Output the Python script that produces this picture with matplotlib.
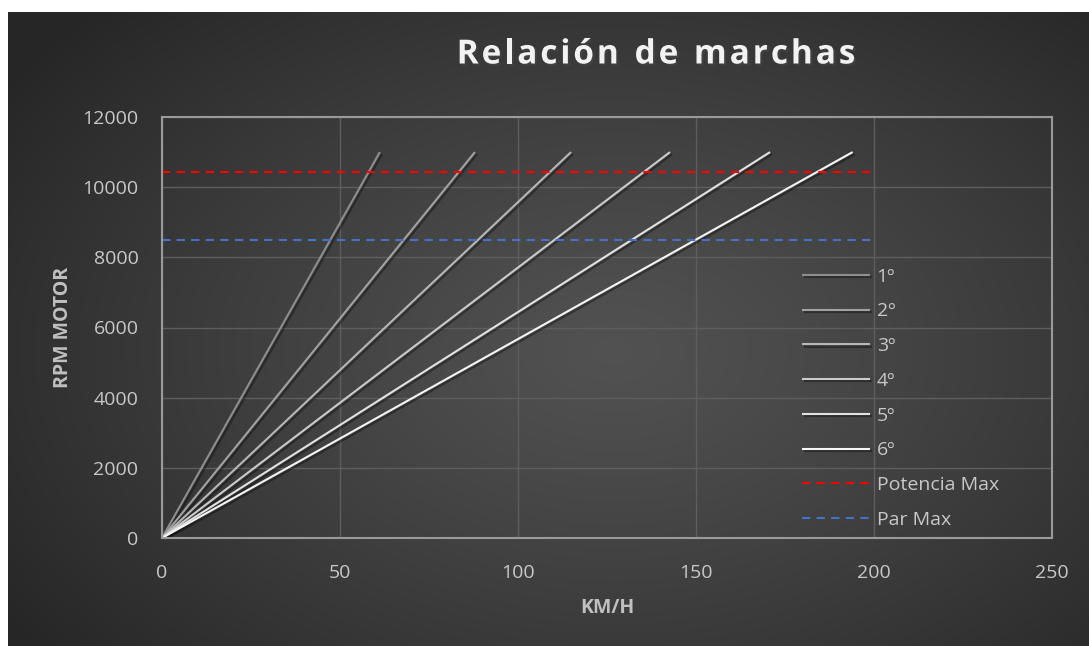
import numpy as np
import matplotlib
matplotlib.use("Agg")
import matplotlib.pyplot as plt
import matplotlib.patheffects as pe

plt.rcParams["font.family"] = ["Open Sans", "DejaVu Sans"]

# data
gears = ["1º", "2º", "3º", "4º", "5º", "6º"]
gear_top_kmh = [61.2, 87.9, 114.9, 142.7, 170.8, 194.0]
gear_rpm = [0, 11000]
gear_colors = ["#8e8e8e", "#a2a2a2", "#b6b6b6", "#cbcbcb", "#e2e2e2", "#f5f5f5"]

potencia_max = 10420
par_max = 8500
ref_kmh = [0, 200]

x_ticks = [0, 50, 100, 150, 200, 250]
y_ticks = [0, 2000, 4000, 6000, 8000, 10000, 12000]

title = "Relación de marchas"

W, H = 1089, 646
fig = plt.figure(figsize=(W / 100, H / 100), dpi=100)
fig.patch.set_facecolor("white")

# dark radial background panel
bg = fig.add_axes([8 / W, 0, 1 - 8 / W, 1 - 12 / H])
bg.set_axis_off()
yy, xx = np.mgrid[0:300, 0:500]
d = np.sqrt(((xx - 280) / 340.0) ** 2 + ((yy - 160) / 230.0) ** 2)
d = np.clip(d, 0, 1)
c = 0.32 - (0.32 - 0.15) * d ** 1.2
img = np.dstack([c, c, c])
bg.imshow(img, aspect="auto", extent=[0, 1, 0, 1], interpolation="bilinear")

ax = fig.add_axes([162 / W, 1 - 538 / H, (1052 - 162) / W, (538 - 117) / H])
ax.patch.set_alpha(0)

shadow = [pe.SimpleLineShadow(offset=(1.5, -1.5), alpha=0.35, shadow_color="black"), pe.Normal()]
for g, v, col in zip(gears, gear_top_kmh, gear_colors):
    ax.plot([0, v], gear_rpm, color=col, lw=1.5, label=g, path_effects=shadow,
            solid_capstyle="butt")

ax.plot(ref_kmh, [potencia_max, potencia_max], color="#ff0000", lw=1.5,
        dashes=(4, 3), label="Potencia Max")
ax.plot(ref_kmh, [par_max, par_max], color="#4472c4", lw=1.5,
        dashes=(4, 3), label="Par Max")

ax.set_xlim(0, 250)
ax.set_ylim(0, 12000)
ax.set_xticks(x_ticks)
ax.set_yticks(y_ticks)
ax.grid(True, color="#5e5e5e", lw=1)
ax.set_axisbelow(True)
ax.tick_params(length=0, colors="#c8c8c8", labelsize=14)
ax.tick_params(axis="y", pad=17)
ax.tick_params(axis="x", pad=19)
for s in ax.spines.values():
    s.set_color("#9a9a9a")
    s.set_linewidth(1.5)

ax.set_xlabel("KM/H", color="#c0c0c0", fontsize=14, fontweight="bold", labelpad=11)
ax.set_ylabel("RPM MOTOR", color="#c0c0c0", fontsize=14, fontweight="bold", labelpad=7)

leg = ax.legend(loc="upper left", bbox_to_anchor=((794 - 162) / 890, (538 - 260) / 421),
                frameon=False, fontsize=14, handlelength=3.5, handletextpad=0.35,
                labelspacing=0.86, borderaxespad=0)
for t in leg.get_texts():
    t.set_color("#c8c8c8")

# title with letter spacing, drawn one character at a time
fig.canvas.draw()
r = fig.canvas.get_renderer()
tkw = dict(fontsize=24, fontweight="bold", color="#f2f2f2", va="center",
           path_effects=[pe.withSimplePatchShadow(offset=(1.5, -1.5), alpha=0.5)])
spacing = 2.9
widths = []
for ch in title:
    t = fig.text(0, 0, ch if ch != " " else "n", **tkw)
    w = t.get_window_extent(r).width
    if ch == " ":
        w *= 0.45
    widths.append(w)
    t.remove()
total = sum(widths) + spacing * (len(title) - 1)
x = 656 - total / 2
for ch, w in zip(title, widths):
    if ch != " ":
        fig.text(x / W, 1 - 55 / H, ch, ha="left", **tkw)
    x += w + spacing

fig.savefig("out.png", dpi=100)
